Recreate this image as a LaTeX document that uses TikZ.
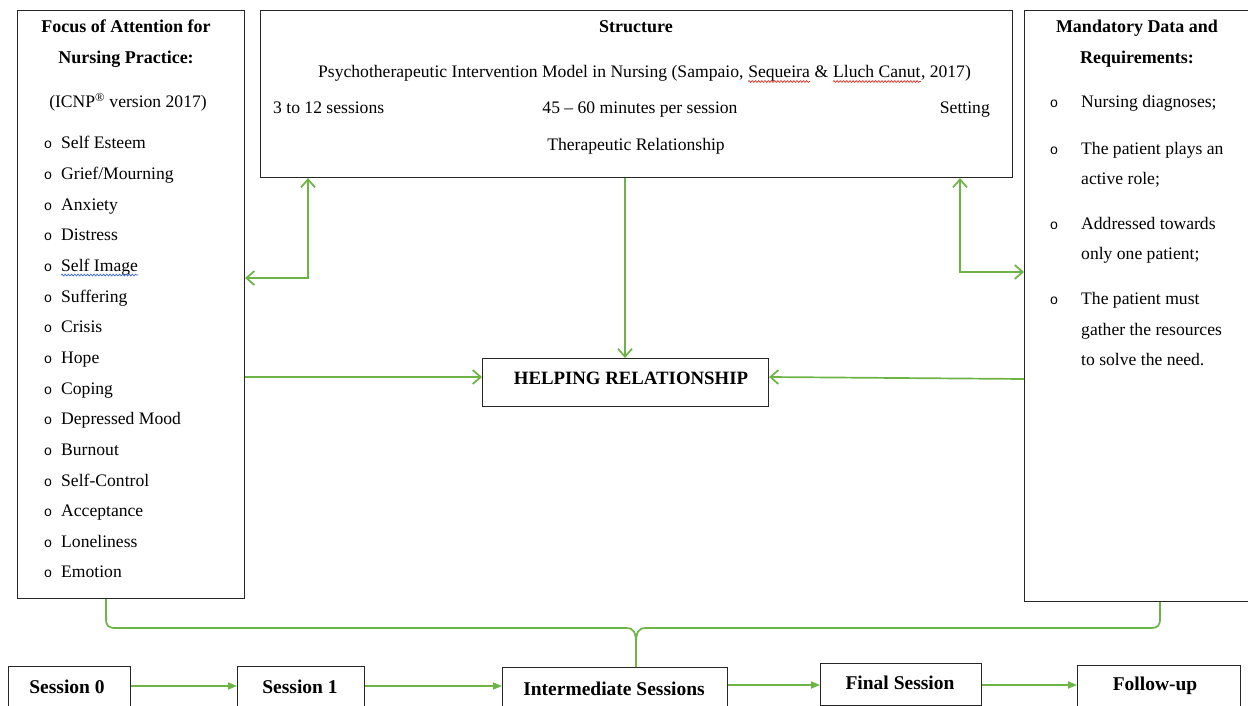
\documentclass[tikz,border=0pt]{standalone}
\usepackage{fontspec}
\setmainfont{Liberation Serif}
\newfontfamily\monof{Liberation Mono}
\usetikzlibrary{arrows.meta,decorations.pathmorphing}
\definecolor{grn}{HTML}{6DB446}
\definecolor{spred}{HTML}{D93025}
\definecolor{spblue}{HTML}{3366DD}
\newcommand\fs{\fontsize{17.6}{20}\selectfont}
\newcommand\fb{\fontsize{18}{20}\selectfont\bfseries}
\newcommand\fbb{\fontsize{19.5}{22}\selectfont\bfseries}
\begin{document}
\begin{tikzpicture}[x=1pt,y=-1pt,
  box/.style={draw=black!85, line width=1.1pt, inner sep=0pt, anchor=north west},
  t/.style={inner sep=0pt, font=\fs},
  tb/.style={inner sep=0pt, font=\fb},
  tbb/.style={inner sep=0pt, font=\fbb},
  bul/.style={inner sep=0pt, font=\monof\fontsize{14}{16}\selectfont, anchor=base},
  garrow/.style={draw=grn, line width=1.7pt},
  vv/.style={garrow, -{Straight Barb[length=8pt,width=14pt,line width=1.7pt]}},
  vvv/.style={garrow, {Straight Barb[length=8pt,width=14pt,line width=1.7pt]}-{Straight Barb[length=8pt,width=14pt,line width=1.7pt]}},
  tri/.style={garrow, -{Triangle[length=9pt,width=7pt]}},
  wave/.style={line width=0.7pt, decorate, decoration={snake,amplitude=0.9pt,segment length=3.2pt}}
]
\useasboundingbox (0,0) rectangle (1248,706);
\fill[white] (0,0) rectangle (1248,706);

% boxes
\node[box, minimum width=227pt, minimum height=588pt] (L) at (17,10) {};
\node[box, minimum width=752pt, minimum height=167pt] (T) at (260,10) {};
\node[box, minimum width=230pt, minimum height=591pt] (R) at (1024,10) {};
\node[box, minimum width=286pt, minimum height=48pt] (H) at (482,358) {};
\node[box, minimum width=122pt, minimum height=42pt] (S0) at (8,666) {};
\node[box, minimum width=127pt, minimum height=42pt] (S1) at (237,666) {};
\node[box, minimum width=225pt, minimum height=42pt] (I) at (502,667) {};
\node[box, minimum width=161pt, minimum height=42pt] (F) at (820,663) {};
\node[box, minimum width=163pt, minimum height=42pt] (U) at (1077,665) {};

% left box text
\node[tb, anchor=base] (lh1) at (126,33) {Focus of Attention for};
\node[tb, anchor=base] (lh2) at (126,64) {Nursing Practice:};
\node[t, anchor=base] (lh3) at (128,108) {(ICNP\textsuperscript{®} version 2017)};
\foreach \w [count=\i] in {Self Esteem, Grief/Mourning, Anxiety, Distress, Self Image, Suffering, Crisis, Hope, Coping, Depressed Mood, Burnout, Self-Control, Acceptance, Loneliness, Emotion}{
  \node[bul] (lb\i) at (48,{149+30.64*(\i-1)}) {o};
  \node[t, anchor=base west] (li\i) at (61,{149+30.64*(\i-1)}) {\w};
}
\draw[wave, spblue] ([yshift=-3.5pt]li5.base west) -- ([yshift=-3.5pt]li5.base east);

% top box text
\node[tb, anchor=base] (th1) at (636,33) {Structure};
\node[t, anchor=base west] (p1) at (318,78) {Psychotherapeutic Intervention Model in Nursing (Sampaio,};
\node[t, anchor=base west] (p2) at ([xshift=4.4pt]p1.base east) {Sequeira};
\node[t, anchor=base west] (p3) at ([xshift=4.4pt]p2.base east) {\&};
\node[t, anchor=base west] (p4) at ([xshift=4.4pt]p3.base east) {Lluch Canut};
\node[t, anchor=base west] (p5) at (p4.base east) {, 2017)};
\draw[wave, spred] ([yshift=-3.5pt]p2.base west) -- ([yshift=-3.5pt]p2.base east);
\draw[wave, spred] ([yshift=-3.5pt]p4.base west) -- ([yshift=-3.5pt]p4.base east);
\node[t, anchor=base west] (th3) at (273,114) {3 to 12 sessions};
\node[t, anchor=base] (th4) at (640,114) {45 – 60 minutes per session};
\node[t, anchor=base east] (th5) at (990,114) {Setting};
\node[t, anchor=base] (th6) at (636,150) {Therapeutic Relationship};

% right box text
\node[tb, anchor=base] (rh1) at (1137,33) {Mandatory Data and};
\node[tb, anchor=base] (rh2) at (1137,64) {Requirements:};
\node[bul] (rb1) at (1054,108) {o};
\node[t, anchor=base west] (r1) at (1081,108) {Nursing diagnoses;};
\node[bul] (rb2) at (1054,154) {o};
\node[t, anchor=base west] (r2) at (1081,154) {The patient plays an};
\node[t, anchor=base west] (r3) at (1081,184) {active role;};
\node[bul] (rb3) at (1054,229) {o};
\node[t, anchor=base west] (r4) at (1081,229) {Addressed towards};
\node[t, anchor=base west] (r5) at (1081,259) {only one patient;};
\node[bul] (rb4) at (1054,304) {o};
\node[t, anchor=base west] (r6) at (1081,304) {The patient must};
\node[t, anchor=base west] (r7) at (1081,335) {gather the resources};
\node[t, anchor=base west] (r8) at (1081,365) {to solve the need.};

% helping
\node[tb, anchor=base, font=\fontsize{18.8}{21}\selectfont\bfseries] (ht) at (631,384) {HELPING RELATIONSHIP};

% bottom labels
\node[tbb, anchor=base] (s0t) at (67,693) {Session 0};
\node[tbb, anchor=base] (s1t) at (300,693) {Session 1};
\node[tbb, anchor=base] (it) at (614,695) {Intermediate Sessions};
\node[tbb, anchor=base] (ft) at (900,689) {Final Session};
\node[tbb, anchor=base] (ut) at (1155,690) {Follow-up};

% coordinates
\coordinate (xa) at (308,278);
\coordinate (xb) at (960,272);
\coordinate (xc) at (625,0);
\coordinate (bl) at (106,0);
\coordinate (br) at (1160,0);
\coordinate (bm) at (636,0);
\coordinate (yh1) at (0,377);
\coordinate (yh2) at (0,379);
\coordinate (yb1) at (0,686);
\coordinate (yb2) at (0,685);

% top connectors
\draw[vvv] (L.east |- xa) -| (T.south -| xa);
\draw[vvv] (T.south -| xb) |- (R.west |- xb);
\draw[vv] (T.south -| xc) -- (H.north -| xc);
\draw[vv] (L.east |- yh1) -- (H.west |- yh1);
\draw[vv] (R.west |- yh2) -- (H.east |- yh1);

% brace
\draw[garrow] (L.south -| bl) -- (106,618) .. controls (106,626) and (108,628) .. (116,628)
  -- (626,628) .. controls (634,628) and (636,632) .. (636,645) -- (I.north -| bm);
\draw[garrow] (R.south -| br) -- (1160,618) .. controls (1160,626) and (1158,628) .. (1150,628)
  -- (646,628) .. controls (638,628) and (636,632) .. (636,645);

% bottom arrows
\draw[tri] (S0.east |- yb1) -- (S1.west |- yb1);
\draw[tri] (S1.east |- yb1) -- (I.west |- yb1);
\draw[tri] (I.east |- yb2) -- (F.west |- yb2);
\draw[tri] (F.east |- yb2) -- (U.west |- yb2);
\end{tikzpicture}
\end{document}
